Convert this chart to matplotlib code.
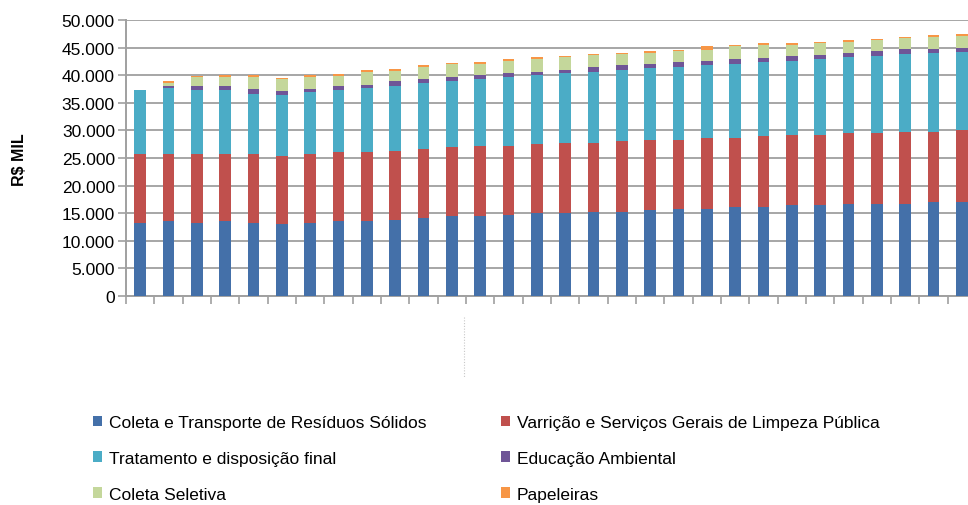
import numpy as np
import matplotlib.pyplot as plt
from matplotlib.ticker import FuncFormatter

# valores em R$ mil, 30 barras
coleta_transporte = [13.3, 13.55, 13.3, 13.55, 13.3, 13.0, 13.3, 13.55, 13.55, 13.85,
                     14.15, 14.45, 14.45, 14.7, 14.95, 14.95, 15.2, 15.2, 15.55, 15.85,
                     15.85, 16.1, 16.1, 16.45, 16.45, 16.65, 16.65, 16.65, 16.95, 16.95]
varricao = [12.45, 12.2, 12.45, 12.2, 12.45, 12.45, 12.45, 12.5, 12.5, 12.5,
            12.5, 12.5, 12.7, 12.45, 12.5, 12.8, 12.55, 12.85, 12.8, 12.5,
            12.8, 12.6, 12.9, 12.8, 12.8, 12.8, 12.8, 13.1, 12.8, 13.1]
tratamento = [11.5, 11.85, 11.55, 11.55, 10.85, 10.95, 11.25, 11.25, 11.65, 11.65,
              11.95, 12.05, 12.1, 12.45, 12.6, 12.6, 12.9, 12.9, 12.9, 13.15,
              13.2, 13.3, 13.35, 13.35, 13.65, 13.8, 14.1, 14.15, 14.3, 14.2]
educacao = [0.0, 0.45, 0.75, 0.75, 0.9, 0.8, 0.5, 0.75, 0.6, 0.9,
            0.65, 0.6, 0.85, 0.75, 0.6, 0.6, 0.9, 0.9, 0.8, 0.85,
            0.8, 0.9, 0.85, 0.85, 0.85, 0.8, 0.8, 0.8, 0.65, 0.65]
coleta_seletiva = [0.0, 0.6, 1.55, 1.65, 2.2, 2.1, 2.2, 1.85, 2.3, 1.95,
                   2.2, 2.4, 2.0, 2.3, 2.35, 2.3, 2.05, 1.95, 2.05, 1.95,
                   1.9, 2.3, 2.35, 2.05, 2.0, 1.95, 1.95, 1.95, 2.2, 2.2]
papeleiras = [0.0, 0.3, 0.2, 0.4, 0.4, 0.25, 0.3, 0.3, 0.3, 0.35,
              0.35, 0.15, 0.25, 0.25, 0.25, 0.25, 0.25, 0.25, 0.25, 0.3,
              0.65, 0.3, 0.3, 0.3, 0.25, 0.3, 0.3, 0.3, 0.3, 0.35]

nomes = ['Coleta e Transporte de Resíduos Sólidos',
         'Varrição e Serviços Gerais de Limpeza Pública',
         'Tratamento e disposição final',
         'Educação Ambiental',
         'Coleta Seletiva',
         'Papeleiras']
cores = ['#4470a9', '#c0504d', '#4bacc6', '#6f5597', '#c4d79b', '#f79646']

series = [coleta_transporte, varricao, tratamento, educacao, coleta_seletiva, papeleiras]

plt.rcParams['font.family'] = ['Liberation Sans', 'DejaVu Sans']

fig = plt.figure(figsize=(9.68, 5.06), dpi=100)
# eixo vai além da borda direita (gráfico cortado no original)
ax = fig.add_axes([126 / 968, 1 - 297 / 506, 850 / 968, 276 / 506])

x = np.arange(len(coleta_transporte))
base = np.zeros(len(x))
barras = []
for vals, cor, nome in zip(series, cores, nomes):
    v = np.array(vals) * 1000
    b = ax.bar(x, v, 0.41, bottom=base, color=cor, label=nome, zorder=3)
    barras.append(b)
    base += v

ax.set_xlim(-0.5, len(x) - 0.5)
ax.set_ylim(0, 50000)
ax.set_yticks(np.arange(0, 50001, 5000))
ax.yaxis.set_major_formatter(FuncFormatter(lambda v, p: f'{int(v):,}'.replace(',', '.')))
ax.set_xticks(np.arange(-0.5, len(x), 1))
ax.set_xticklabels([])
ax.tick_params(axis='x', length=6, width=1.2, color='#a0a0a0', direction='out')
ax.tick_params(axis='y', length=6, width=1.2, color='#a0a0a0', labelsize=12.5, pad=2)

ax.grid(axis='y', color='#a6a6a6', linewidth=1.4, zorder=0)
for s in ['top', 'right']:
    ax.spines[s].set_visible(False)
ax.spines['left'].set_color('#a0a0a0')
ax.spines['left'].set_linewidth(1.4)
ax.spines['bottom'].set_color('#a0a0a0')
ax.spines['bottom'].set_linewidth(1.4)

fig.text(20 / 968, 1 - 160 / 506, 'R$ MIL', rotation=90, fontsize=11.5, fontweight='bold',
         ha='center', va='center')

# rótulo minúsculo ilegível abaixo do eixo
fig.add_artist(plt.Line2D([464 / 968, 464 / 968], [1 - 318 / 506, 1 - 378 / 506],
                          color='#c8c8c8', linewidth=0.8, linestyle=(0, (1, 1.5))))

fonte_leg = {'family': ['Liberation Sans Narrow', 'Liberation Sans'], 'size': 12.5}
opts = dict(frameon=False, handlelength=0.55, handleheight=0.55, handletextpad=0.35,
            labelspacing=1.2, prop=fonte_leg, loc='upper left', borderaxespad=0)
fig.legend([barras[i] for i in (0, 2, 4)], [nomes[i] for i in (0, 2, 4)],
           bbox_to_anchor=(86 / 968, 1 - 409 / 506), **opts)
fig.legend([barras[i] for i in (1, 3, 5)], [nomes[i] for i in (1, 3, 5)],
           bbox_to_anchor=(494 / 968, 1 - 409 / 506), **opts)

fig.savefig('out.png', dpi=100)
